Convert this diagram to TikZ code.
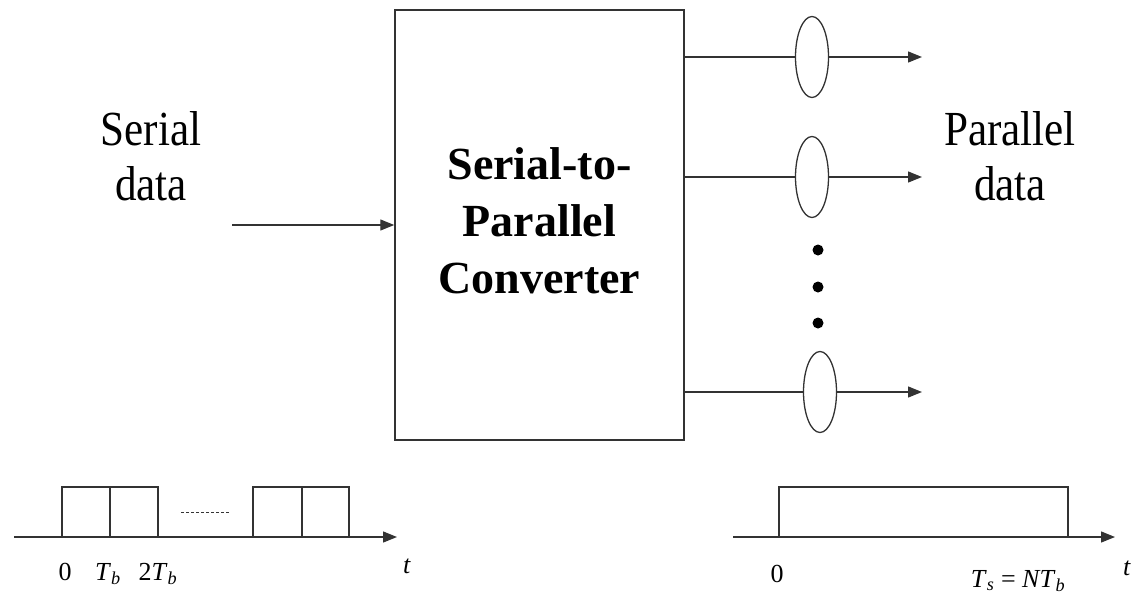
\documentclass[tikz,border=0pt]{standalone}
\usepackage{fontspec}
\setmainfont{Liberation Serif}
\newfontfamily\narrowserif[FakeStretch=0.88]{Liberation Serif}
\usetikzlibrary{shapes.geometric,arrows.meta}

\tikzset{
  wire/.style={draw=black!80,line width=1.3pt},
  arr/.style={wire,-{Triangle[length=14pt,width=11pt]}},
  tap/.style={ellipse,draw=black!80,line width=1.3pt,fill=white,minimum width=33pt,minimum height=81pt,inner sep=0pt},
  bigtxt/.style={font=\narrowserif\fontsize{49}{55}\selectfont,align=center,inner sep=0pt},
  ticktxt/.style={font=\fontsize{26}{28}\selectfont,anchor=base,inner sep=0pt},
}

\begin{document}
\begin{tikzpicture}[x=1pt,y=1pt,yscale=-1,xscale=1]
\useasboundingbox (0,0) rectangle (1135,600);

%Converter box
\node (conv) [draw=black!80,line width=1.5pt,minimum width=289pt,minimum height=430pt,inner sep=0pt] at (539.5,225) {};
\node (convtxt) [align=center,inner sep=0pt,font=\bfseries\fontsize{46}{57}\selectfont] at (539.5,221) {Serial-to-\\Parallel\\Converter};

%Labels
\node (sertxt) [bigtxt] at (151,156) {Serial\\data};
\node (partxt) [bigtxt] at (1010,156) {Parallel\\data};

%Input
\coordinate (in) at (232,225);
\draw [arr] (in) -- (conv.west);

%Outputs
\node (tapa) [tap] at (812,57) {};
\node (tapb) [tap] at (812,177) {};
\node (tapn) [tap] at (820,392) {};
\coordinate (outa) at (922,57);
\coordinate (outb) at (922,177);
\coordinate (outn) at (922,392);
\draw [wire] (conv.east |- tapa) -- (tapa.west);
\draw [wire] (conv.east |- tapb) -- (tapb.west);
\draw [wire] (conv.east |- tapn) -- (tapn.west);
\draw [arr] (tapa.east) -- (outa);
\draw [arr] (tapb.east) -- (outb);
\draw [arr] (tapn.east) -- (outn);

%Dots
\foreach \y in {250,287,323}
  \fill (818,\y) circle [radius=5.5];

%Serial timing
\draw [arr] (14,537) -- (397,537);
\draw [wire] (62,537) -- (62,487) -- (158,487) -- (158,537) (110,487) -- (110,537);
\draw [wire] (253,537) -- (253,487) -- (349,487) -- (349,537) (302,487) -- (302,537);
\draw [wire,line width=1pt,dash pattern={on 3pt off 2pt}] (181,512) -- (230,512);
\node (s0) [ticktxt] at (65,580) {0};
\node (s1) [ticktxt] at (108,580) {\textit{T}\textsubscript{\textit{b}}};
\node (s2) [ticktxt] at (158,580) {2\textit{T}\textsubscript{\textit{b}}};
\node (st) [ticktxt] at (407,573) {\textit{t}};

%Parallel timing
\draw [arr] (733,537) -- (1115,537);
\draw [wire] (779,537) -- (779,487) -- (1068,487) -- (1068,537);
\node (p0) [ticktxt] at (777,582) {0};
\node (p1) [ticktxt] at (1018,587) {\textit{T}\textsubscript{\textit{s}} = \textit{NT}\textsubscript{\textit{b}}};
\node (pt) [ticktxt] at (1127,575) {\textit{t}};

\end{tikzpicture}
\end{document}
